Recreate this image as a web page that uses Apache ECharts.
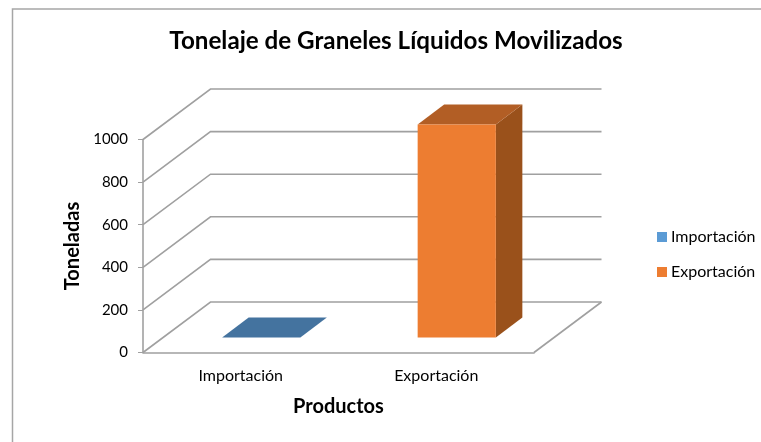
<!DOCTYPE html>
<html>
<head>
<meta charset="utf-8">
<title>Tonelaje de Graneles Líquidos Movilizados</title>
<style>
  html, body { margin: 0; padding: 0; background: #fff; }
  #chart { width: 761px; height: 442px; }
</style>
<script src="https://cdn.jsdelivr.net/npm/echarts@6/dist/echarts.min.js"></script>
</head>
<body>
<div id="chart"></div>
<script>
var categorias = ['Importación', 'Exportación'];
var importacion = [0, null];
var exportacion = [null, 1000];
var ticks = [0, 200, 400, 600, 800, 1000];

var fuente = 'Lato';
var gris = '#a0a0a0';

// profundidad del piso en pixeles (falso 3D)
var fondoX = 67.5, fondoY = -50.5;
// donde cae la barra dentro de esa profundidad
var barraX = 20.5, barraY = -15, barraFondoX = 26.5, barraFondoY = -20;

function poly(puntos, color) {
  return { type: 'polygon', shape: { points: puntos }, style: { fill: color } };
}

function renderBarra(colores) {
  return function (params, api) {
    var i = api.value(0), v = api.value(1);
    if (isNaN(v)) return;
    var ancho = api.size([1, 0])[0] * 0.4;
    var base = api.coord([i, 0]), tope = api.coord([i, v]);
    var x0 = base[0] + barraX - ancho / 2, x1 = x0 + ancho;
    var y0 = base[1] + barraY, y1 = tope[1] + barraY;
    var dx = barraFondoX, dy = barraFondoY;
    return {
      type: 'group',
      children: [
        poly([[x1, y0], [x1 + dx, y0 + dy], [x1 + dx, y1 + dy], [x1, y1]], colores[2]),
        poly([[x0, y1], [x1, y1], [x1 + dx, y1 + dy], [x0 + dx, y1 + dy]], colores[1]),
        poly([[x0, y0], [x1, y0], [x1, y1], [x0, y1]], colores[0])
      ]
    };
  };
}

function renderPared(params, api) {
  var v = api.value(0);
  var izq = api.coord([0, v]);
  var der = api.coord([categorias.length - 1, v]);
  izq[0] = params.coordSys.x;
  der[0] = params.coordSys.x + params.coordSys.width;
  return {
    type: 'polyline',
    shape: { points: [izq, [izq[0] + fondoX, izq[1] + fondoY], [der[0] + fondoX, izq[1] + fondoY]] },
    style: { stroke: gris, lineWidth: 1.6, fill: 'none' }
  };
}

function renderPiso(params, api) {
  var p = api.coord([0, 0]);
  var x = params.coordSys.x + params.coordSys.width;
  return {
    type: 'line',
    shape: { x1: x, y1: p[1], x2: x + fondoX, y2: p[1] + fondoY },
    style: { stroke: gris, lineWidth: 1.6 }
  };
}

var chart = echarts.init(document.getElementById('chart'), null, { renderer: 'canvas' });
chart.setOption({
  backgroundColor: '#fff',
  animation: false,
  textStyle: { fontFamily: fuente },
  title: {
    text: 'Tonelaje de Graneles Líquidos Movilizados',
    left: 391, top: 24, textAlign: 'center',
    textStyle: { fontFamily: fuente, fontSize: 24.2, fontWeight: 'bold', color: '#000' }
  },
  legend: {
    orient: 'vertical', left: 652, top: 224,
    itemWidth: 10, itemHeight: 10, itemGap: 19,
    icon: 'rect',
    data: ['Importación', 'Exportación'],
    textStyle: { fontFamily: fuente, fontSize: 16, color: '#000', padding: [0, 0, 0, -1] }
  },
  grid: { left: 143, top: 139.5, width: 391, height: 213 },
  xAxis: {
    type: 'category',
    data: categorias,
    name: 'Productos',
    nameLocation: 'middle',
    nameGap: 44,
    nameTextStyle: { fontFamily: fuente, fontSize: 20, fontWeight: 'bold', color: '#000' },
    axisLine: { lineStyle: { color: gris, width: 1.6 } },
    axisTick: { length: 4, lineStyle: { color: gris } },
    axisLabel: { margin: 15, fontFamily: fuente, fontSize: 16, color: '#000' }
  },
  yAxis: {
    type: 'value',
    min: 0, max: 1000, interval: 200,
    name: 'Toneladas',
    nameLocation: 'middle',
    nameGap: 60,
    nameTextStyle: { fontFamily: fuente, fontSize: 20, fontWeight: 'bold', color: '#000' },
    axisLine: { show: true, lineStyle: { color: gris, width: 1.6 } },
    axisTick: { show: true, length: 5, lineStyle: { color: gris } },
    axisLabel: {
      margin: 15, fontFamily: fuente, fontSize: 15, color: '#000',
      formatter: function (v) { return String(v); }
    },
    splitLine: { show: false }
  },
  // marco del grafico, cortado a la derecha y abajo como en la captura
  graphic: [{
    type: 'polyline',
    silent: true,
    shape: { points: [[12.5, 442], [12.5, 9], [761, 9]] },
    style: { stroke: '#a6a6a6', lineWidth: 1.5, fill: 'none' }
  }],
  series: [
    { type: 'custom', silent: true, z: 1, renderItem: renderPared, data: ticks.map(function (t) { return [t]; }), encode: { y: 0 } },
    { type: 'custom', silent: true, z: 1, renderItem: renderPiso, data: [[0]], encode: { y: 0 } },
    {
      name: 'Importación', type: 'custom', z: 3,
      itemStyle: { color: '#5b9bd5' },
      renderItem: renderBarra(['#5b9bd5', '#44739f', '#3a6390']),
      data: importacion.map(function (v, i) { return [i, v]; }),
      encode: { x: 0, y: 1 }
    },
    {
      name: 'Exportación', type: 'custom', z: 3,
      itemStyle: { color: '#ed7d31' },
      renderItem: renderBarra(['#ed7d31', '#b25e25', '#9a511b']),
      data: exportacion.map(function (v, i) { return [i, v]; }),
      encode: { x: 0, y: 1 }
    }
  ]
});
</script>
</body>
</html>
